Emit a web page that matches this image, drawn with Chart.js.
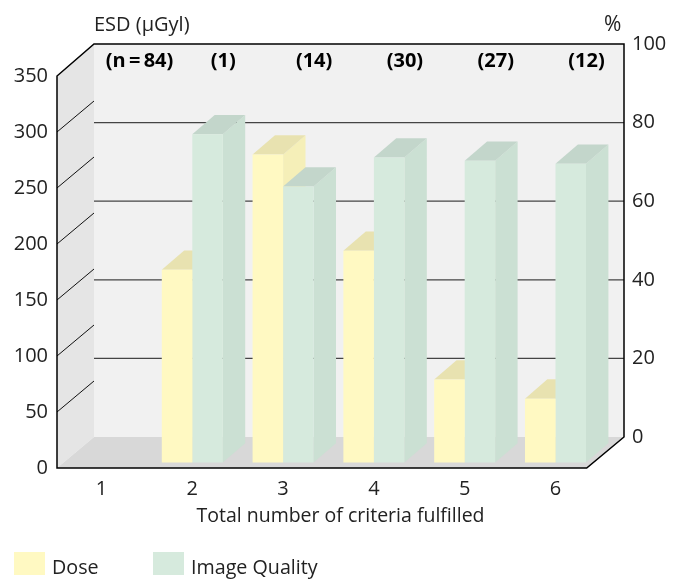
<!DOCTYPE html>
<html>
<head>
<meta charset="utf-8">
<title>ESD and image quality</title>
<script src="https://cdn.jsdelivr.net/npm/chart.js@4"></script>
<style>
  html, body { margin: 0; padding: 0; background: #fff; }
  canvas { display: block; }
</style>
</head>
<body>
<canvas id="chart" width="681" height="579"></canvas>
<script>
const criteria = [1, 2, 3, 4, 5, 6];
const dose = [null, 172, 275, 189, 74, 57];
const imageQuality = [null, 83.5, 70.2, 77.6, 76.8, 76];
const countLabels = ['(n\u2009=\u200984)', '(1)', '(14)', '(30)', '(27)', '(12)'];
const doseTicks = [0, 50, 100, 150, 200, 250, 300, 350];
const percentTicks = [0, 20, 40, 60, 80, 100];

const FONT = '"Open Sans", "Noto Sans", sans-serif';
const TEXT = '#222222';

// box of the fake 3D room, in pixels
const top_ = 44, bottom = 468, left = 57, backLeft = 94, backRight = 624, frontRight = 586.7, floorBack = 437;
const doseUnit = 1.12, pctUnit = 3.93;   // pixels per unit
const barZero = 462.5;                   // bars stand a little in front of the axis plane
const barDx = 22.4, barDy = -19.3;       // depth of a bar

function poly(ctx, pts, fill) {
  ctx.beginPath();
  pts.forEach((p, i) => i ? ctx.lineTo(p[0], p[1]) : ctx.moveTo(p[0], p[1]));
  ctx.closePath();
  ctx.fillStyle = fill;
  ctx.fill();
}

function line(ctx, x1, y1, x2, y2, color, width) {
  ctx.beginPath();
  ctx.moveTo(x1, y1);
  ctx.lineTo(x2, y2);
  ctx.strokeStyle = color;
  ctx.lineWidth = width;
  ctx.stroke();
}

function text(ctx, str, x, y, font, align, color) {
  ctx.font = font;
  ctx.fillStyle = color || TEXT;
  ctx.textAlign = align || 'left';
  ctx.textBaseline = 'middle';
  ctx.fillText(str, x, y);
}

const room = {
  id: 'room',
  // walls, floor, gridlines, then side and top of the bars
  beforeDatasetsDraw(chart) {
    const ctx = chart.ctx;
    const dy = floorBack - bottom;
    const wallTop = chart.scales.y.getPixelForValue(350);
    ctx.save();
    poly(ctx, [[backLeft, top_], [backRight, top_], [backRight, floorBack], [backLeft, floorBack]], '#f1f1f1');
    poly(ctx, [[left, wallTop], [backLeft, top_], [backLeft, floorBack], [left, bottom]], '#e5e5e5');
    poly(ctx, [[left, bottom], [backLeft, floorBack], [backRight, floorBack], [frontRight, bottom]], '#d8d8d8');

    percentTicks.slice(1, -1).forEach(v => {
      const y = chart.scales.yPct.getPixelForValue(v);
      line(ctx, backLeft, y, backRight, y, '#444444', 1.2);
    });
    doseTicks.slice(1, -1).forEach(v => {
      const y = chart.scales.y.getPixelForValue(v);
      line(ctx, left, y, backLeft, y + dy, '#111111', 1);
    });

    ctx.beginPath();
    ctx.moveTo(left, bottom);
    ctx.lineTo(left, wallTop);
    ctx.lineTo(backLeft, top_);
    ctx.lineTo(backRight, top_);
    ctx.lineTo(backRight, floorBack);
    ctx.lineTo(frontRight, bottom);
    ctx.closePath();
    ctx.strokeStyle = '#000';
    ctx.lineWidth = 1.5;
    ctx.stroke();

    // the front faces are the normal bar elements, drawn after this
    chart.data.datasets.forEach((ds, n) => {
      chart.getDatasetMeta(n).data.forEach((bar, i) => {
        if (ds.data[i] === null) return;
        const { x, y, base, width } = bar.getProps(['x', 'y', 'base', 'width'], true);
        const l = x - width / 2, r = x + width / 2;
        poly(ctx, [[r, y], [r + barDx, y + barDy], [r + barDx, base + barDy], [r, base]], ds.sideColor);
        poly(ctx, [[l, y], [l + barDx, y + barDy], [r + barDx, y + barDy], [r, y]], ds.topColor);
      });
    });
    ctx.restore();
  },
  // axis captions, counts and legend
  afterDraw(chart) {
    const ctx = chart.ctx;
    const x = chart.scales.x;
    ctx.save();
    text(ctx, 'ESD (\u00b5Gyl)', 94, 25, '20px ' + FONT);
    text(ctx, '%', 604, 25, '21px ' + FONT);
    countLabels.forEach((label, i) => {
      text(ctx, label, x.getPixelForValue(criteria[i]) + (i === 0 ? 38 : 31), 61, 'bold 20px ' + FONT, 'center', '#000');
    });
    chart.data.datasets.forEach((ds, i) => {
      const boxX = i === 0 ? 14 : 153;
      ctx.fillStyle = ds.backgroundColor;
      ctx.fillRect(boxX, 552, 31, 23);
      text(ctx, ds.label, boxX + 38, 568, '19.7px ' + FONT);
    });
    ctx.restore();
  }
};

new Chart(document.getElementById('chart'), {
  type: 'bar',
  plugins: [room],
  data: {
    labels: criteria,
    datasets: [
      {
        label: 'Dose',
        data: dose,
        yAxisID: 'yDose',
        backgroundColor: '#fff9c2',
        sideColor: '#f5efb8',
        topColor: '#e8e2b0',
      },
      {
        label: 'Image Quality',
        data: imageQuality,
        yAxisID: 'yQuality',
        backgroundColor: '#d6eadd',
        sideColor: '#cbe0d3',
        topColor: '#c3d6cb',
      },
    ],
  },
  options: {
    responsive: false,
    animation: false,
    events: [],
    layout: { padding: { top: top_ } },
    datasets: { bar: { barPercentage: 1, categoryPercentage: 0.672, borderWidth: 0 } },
    plugins: { legend: { display: false }, tooltip: { enabled: false } },
    scales: {
      x: {
        type: 'linear',
        offset: false,
        min: 0.51,
        max: 0.51 + (backRight - left) / 90.8,
        grid: { display: false, drawTicks: false },
        border: { display: false },
        afterBuildTicks: s => { s.ticks = criteria.map(v => ({ value: v })); },
        afterFit: s => { s.height = 579 - bottom; },
        ticks: { padding: 9, color: TEXT, font: { family: FONT, size: 20 } },
        title: {
          display: true,
          text: 'Total number of criteria fulfilled',
          color: TEXT,
          font: { family: FONT, size: 19.5 },
          padding: { top: 0, bottom: 51 },
        },
      },
      // visible left axis, front plane of the room
      y: {
        position: 'left',
        min: 0,
        max: (bottom - top_) / doseUnit,
        grid: { display: false, drawTicks: false },
        border: { display: false },
        afterBuildTicks: s => { s.ticks = doseTicks.map(v => ({ value: v })); },
        afterFit: s => { s.width = left; },
        ticks: { padding: 9, color: TEXT, font: { family: FONT, size: 20 } },
      },
      // visible right axis, back plane of the room
      yPct: {
        position: 'right',
        min: (floorBack - bottom) / pctUnit,
        max: 100,
        grid: { display: false, drawTicks: false },
        border: { display: false },
        afterBuildTicks: s => { s.ticks = percentTicks.map(v => ({ value: v })); },
        afterFit: s => { s.width = 681 - backRight; },
        ticks: { padding: 8, color: TEXT, font: { family: FONT, size: 20 } },
      },
      // hidden scales the bars stand on
      yDose: {
        display: false,
        min: (barZero - bottom) / doseUnit,
        max: (barZero - top_) / doseUnit,
      },
      yQuality: {
        display: false,
        min: (barZero - bottom) / pctUnit,
        max: (barZero - top_) / pctUnit,
      },
    },
  },
});
</script>
</body>
</html>
